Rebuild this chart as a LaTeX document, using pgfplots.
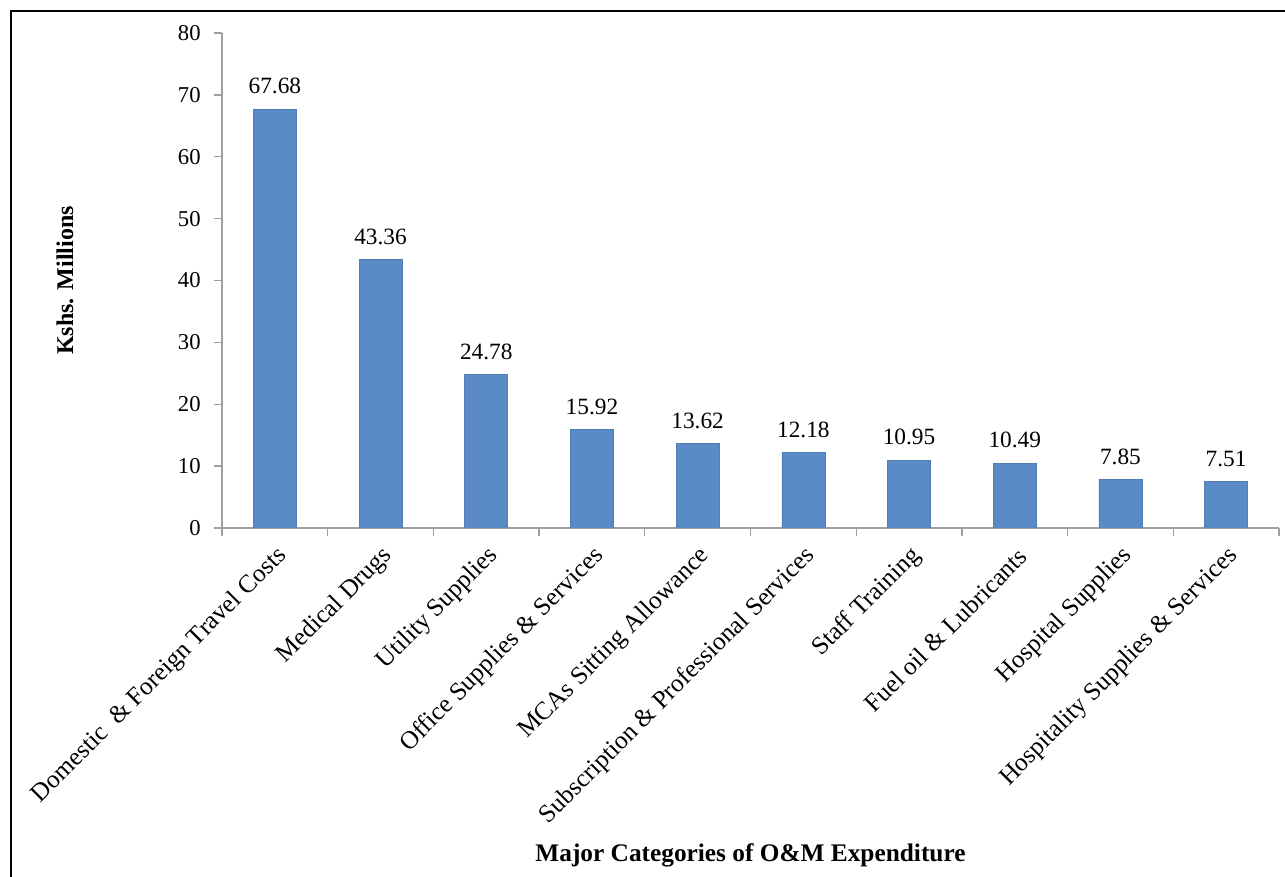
\documentclass[border=0pt]{standalone}
\usepackage{pgfplots}
\pgfplotsset{compat=1.18}
\usepackage{fontspec}
\setmainfont{Liberation Serif}
\definecolor{barblue}{RGB}{91,139,198}
\definecolor{axgray}{RGB}{160,160,160}
\begin{document}
\begin{tikzpicture}
\useasboundingbox (-166.5pt,-261.75pt) rectangle (797.25pt,396pt);
\fill[white] (-166.5pt,-261.75pt) rectangle (797.25pt,396pt);
\draw[black, line width=1.6pt] (-158.25pt,-262pt) -- (-158.25pt,387.75pt) -- (798pt,387.75pt);
\begin{axis}[
  at={(0pt,0pt)}, anchor=south west,
  scale only axis,
  width=792.75pt, height=371.25pt,
  ybar, bar width=32.25pt,
  xmin=-0.5, xmax=9.5, ymin=0, ymax=80,
  ytick={0,10,...,80},
  xtick={-0.5,0.5,...,9.5},
  x tick label as interval,
  xticklabels={Domestic\ \ \& Foreign Travel Costs, Medical Drugs, Utility Supplies, Office Supplies \& Services, MCAs Sitting Allowance, Subscription \& Professional Services, Staff Training, Fuel oil \& Lubricants, Hospital Supplies, Hospitality Supplies \& Services},
  axis x line*=bottom, axis y line*=left,
  axis line style={axgray, line width=1pt, -},
  tick style={axgray, line width=1pt},
  major tick length=6pt,
  tick align=outside,
  /pgf/number format/assume math mode=true,
  yticklabel style={font=\fontsize{17}{20}\selectfont, xshift=-6.5pt},
  xticklabel style={font=\fontsize{19}{22}\selectfont, rotate=45, anchor=east, yshift=-13pt, xshift=-1pt},
  nodes near coords,
  nodes near coords style={font=\fontsize{17.5}{21}\selectfont, /pgf/number format/fixed, /pgf/number format/fixed zerofill, /pgf/number format/precision=2, inner sep=0pt, yshift=11pt},
  xlabel={Major Categories of O\&M Expenditure},
  xlabel style={font=\bfseries\fontsize{19}{22}\selectfont, at={(axis description cs:0.5,0)}, anchor=center, yshift=-245.25pt},
  ylabel={Kshs. Millions},
  ylabel style={font=\bfseries\fontsize{18}{22}\selectfont, at={(axis description cs:-0.1485,0.5)}, anchor=center},
]
\addplot[fill=barblue, draw=barblue!90!black, line width=0.4pt] coordinates {
(0,67.68) (1,43.36) (2,24.78) (3,15.92) (4,13.62) (5,12.18) (6,10.95) (7,10.49) (8,7.85) (9,7.51)
};
\end{axis}
\end{tikzpicture}
\end{document}
